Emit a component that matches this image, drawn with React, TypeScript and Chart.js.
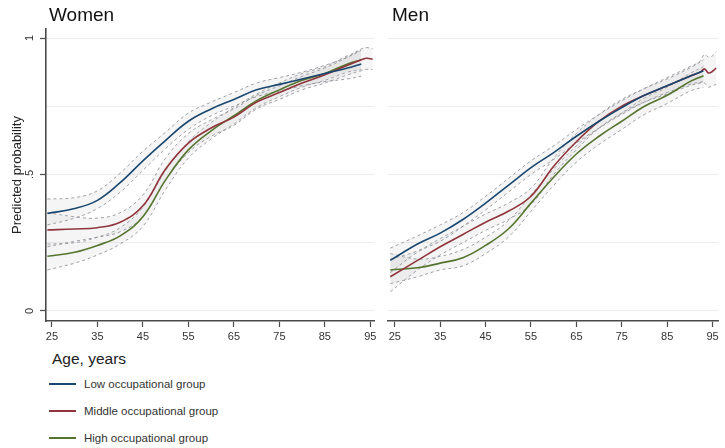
import React, { useEffect, useRef } from 'react';
import { Chart, registerables } from 'chart.js';

Chart.register(...registerables);

// ---------- data ----------
const X_TICKS = [25, 35, 45, 55, 65, 75, 85, 95];
const Y_TICKS = [0, 0.25, 0.5, 0.75, 1];
const Y_TICK_LABELS: Record<string, string> = { '0': '0', '0.5': '.5', '1': '1' };

const GROUPS = ['Low occupational group', 'Middle occupational group', 'High occupational group'];
const COLORS = ['#1a476f', '#90353b', '#55752f'];

// Women
const W_AGES = [24, 30, 35, 40, 45, 50, 55, 60, 65, 70, 75, 80, 85, 90, 93];
const W_AGES_MID = [24, 30, 35, 40, 45, 50, 55, 60, 65, 70, 75, 80, 85, 90, 93, 94.2, 95.5];

const W_LOW = [0.357, 0.375, 0.405, 0.47, 0.55, 0.625, 0.695, 0.74, 0.775, 0.81, 0.83, 0.85, 0.87, 0.89, 0.905];
const W_LOW_HI = [0.41, 0.415, 0.44, 0.505, 0.585, 0.655, 0.725, 0.765, 0.80, 0.835, 0.855, 0.875, 0.90, 0.93, 0.955];
const W_LOW_LO = [0.315, 0.34, 0.375, 0.435, 0.515, 0.595, 0.665, 0.715, 0.75, 0.785, 0.805, 0.825, 0.84, 0.85, 0.86];

const W_MID = [0.297, 0.30, 0.305, 0.325, 0.385, 0.52, 0.615, 0.67, 0.71, 0.765, 0.80, 0.835, 0.865, 0.90, 0.92, 0.926, 0.922];
const W_MID_HI = [0.36, 0.345, 0.34, 0.36, 0.425, 0.56, 0.65, 0.70, 0.74, 0.79, 0.825, 0.86, 0.89, 0.93, 0.96, 0.965, 0.96];
const W_MID_LO = [0.235, 0.255, 0.27, 0.29, 0.345, 0.48, 0.58, 0.64, 0.68, 0.74, 0.775, 0.81, 0.835, 0.865, 0.88, 0.885, 0.885];

const W_HIGH = [0.20, 0.215, 0.24, 0.275, 0.345, 0.48, 0.59, 0.66, 0.715, 0.77, 0.81, 0.845, 0.87, 0.905, 0.92];
const W_HIGH_HI = [0.245, 0.25, 0.27, 0.305, 0.38, 0.515, 0.62, 0.69, 0.745, 0.795, 0.835, 0.87, 0.895, 0.935, 0.955];
const W_HIGH_LO = [0.15, 0.175, 0.205, 0.245, 0.31, 0.445, 0.56, 0.63, 0.685, 0.745, 0.785, 0.82, 0.845, 0.875, 0.885];

// Men
const M_AGES = [24, 30, 35, 40, 45, 50, 55, 60, 65, 70, 75, 80, 85, 90, 93];
const M_AGES_MID = [24, 30, 35, 40, 45, 50, 55, 60, 65, 70, 75, 80, 85, 90, 92.3, 93.2, 94.1, 95.0, 95.8];

const M_LOW = [0.185, 0.245, 0.285, 0.335, 0.395, 0.46, 0.525, 0.58, 0.64, 0.695, 0.745, 0.79, 0.825, 0.86, 0.88];
const M_LOW_HI = [0.23, 0.275, 0.315, 0.36, 0.42, 0.485, 0.55, 0.605, 0.665, 0.72, 0.77, 0.815, 0.85, 0.89, 0.92];
const M_LOW_LO = [0.14, 0.215, 0.255, 0.31, 0.37, 0.435, 0.50, 0.555, 0.615, 0.67, 0.72, 0.765, 0.80, 0.83, 0.84];

const M_MID = [0.125, 0.185, 0.235, 0.28, 0.325, 0.365, 0.42, 0.53, 0.62, 0.695, 0.75, 0.79, 0.825, 0.86, 0.875, 0.887, 0.872, 0.878, 0.89];
const M_MID_HI = [0.19, 0.22, 0.265, 0.31, 0.355, 0.395, 0.45, 0.56, 0.65, 0.72, 0.775, 0.815, 0.855, 0.895, 0.915, 0.94, 0.93, 0.935, 0.95];
const M_MID_LO = [0.07, 0.15, 0.205, 0.25, 0.295, 0.335, 0.39, 0.50, 0.59, 0.67, 0.725, 0.765, 0.795, 0.825, 0.835, 0.835, 0.82, 0.825, 0.83];

const M_HIGH = [0.15, 0.158, 0.175, 0.195, 0.24, 0.30, 0.395, 0.49, 0.575, 0.64, 0.695, 0.75, 0.79, 0.84, 0.862];
const M_HIGH_HI = [0.21, 0.19, 0.20, 0.225, 0.27, 0.33, 0.425, 0.52, 0.605, 0.67, 0.725, 0.78, 0.82, 0.87, 0.895];
const M_HIGH_LO = [0.10, 0.125, 0.15, 0.165, 0.21, 0.27, 0.365, 0.46, 0.545, 0.61, 0.665, 0.72, 0.76, 0.805, 0.82];

// ---------- styles ----------
const FONT = '"Liberation Sans", Arial, Helvetica, sans-serif';
const AXIS_COLOR = '#4a4a4a';
const GRID_COLOR = '#ececec';
const BAND_LINE = 'rgba(130,130,140,0.75)';
const BAND_FILL = 'rgba(190,190,195,0.16)';

type Series = { ages: number[]; est: number[]; lo: number[]; hi: number[]; color: string };

const WOMEN: Series[] = [
  { ages: W_AGES, est: W_LOW, lo: W_LOW_LO, hi: W_LOW_HI, color: COLORS[0] },
  { ages: W_AGES_MID, est: W_MID, lo: W_MID_LO, hi: W_MID_HI, color: COLORS[1] },
  { ages: W_AGES, est: W_HIGH, lo: W_HIGH_LO, hi: W_HIGH_HI, color: COLORS[2] },
];
const MEN: Series[] = [
  { ages: M_AGES, est: M_LOW, lo: M_LOW_LO, hi: M_LOW_HI, color: COLORS[0] },
  { ages: M_AGES_MID, est: M_MID, lo: M_MID_LO, hi: M_MID_HI, color: COLORS[1] },
  { ages: M_AGES, est: M_HIGH, lo: M_HIGH_LO, hi: M_HIGH_HI, color: COLORS[2] },
];

function buildDatasets(series: Series[]) {
  const ds: any[] = [];
  series.forEach((s) => {
    const pts = (arr: number[]) => arr.map((v, i) => ({ x: s.ages[i], y: v }));
    const loIdx = ds.length;
    ds.push({
      data: pts(s.lo), borderColor: BAND_LINE, borderDash: [3, 3], borderWidth: 1,
      pointRadius: 0, fill: false, order: 2, tension: 0.4,
    });
    ds.push({
      data: pts(s.hi), borderColor: BAND_LINE, borderDash: [3, 3], borderWidth: 1,
      pointRadius: 0, fill: { target: loIdx }, backgroundColor: BAND_FILL, order: 2, tension: 0.4,
    });
  });
  series.forEach((s) => {
    ds.push({
      data: s.est.map((v, i) => ({ x: s.ages[i], y: v })),
      borderColor: s.color, borderWidth: 1.6, pointRadius: 0, fill: false, order: 1, tension: 0.4,
    });
  });
  return ds;
}

function makeOptions(showY: boolean, xmin: number, xmax: number, padding: any) {
  return {
    responsive: false,
    animation: false as const,
    layout: { padding },
    plugins: { legend: { display: false }, tooltip: { enabled: false }, title: { display: false } },
    scales: {
      x: {
        type: 'linear' as const,
        min: xmin,
        max: xmax,
        afterBuildTicks: (axis: any) => { axis.ticks = X_TICKS.map((v) => ({ value: v })); },
        afterFit: (s: any) => { s.height = 24; },
        grid: { drawOnChartArea: false, drawTicks: true, tickLength: 6, tickColor: AXIS_COLOR, tickWidth: 1.2 },
        border: { display: true, color: AXIS_COLOR, width: 1.6 },
        ticks: {
          padding: 3, color: '#333', font: { family: FONT, size: 11 }, maxRotation: 0, minRotation: 0,
          callback: (v: any) => String(v),
        },
      },
      y: {
        type: 'linear' as const,
        min: -0.037,
        max: 1.033,
        afterBuildTicks: (axis: any) => { axis.ticks = Y_TICKS.map((v) => ({ value: v })); },
        afterFit: (s: any) => { s.width = showY ? 46 : 0; },
        grid: {
          color: GRID_COLOR, lineWidth: 1, drawTicks: showY, tickLength: 6, tickWidth: 1.2,
          tickColor: (ctx: any) => (ctx.tick && Y_TICK_LABELS[String(ctx.tick.value)] !== undefined ? AXIS_COLOR : 'rgba(0,0,0,0)'),
        },
        border: { display: showY, color: AXIS_COLOR, width: 1.6 },
        title: {
          display: showY, text: 'Predicted probability', color: '#222',
          font: { family: FONT, size: 13 }, padding: { top: 9.5, bottom: 0 },
        },
        ticks: {
          display: showY, color: '#333', font: { family: FONT, size: 11 },
          minRotation: 90, maxRotation: 90, crossAlign: 'center' as const, padding: 5,
          callback: (v: any) => Y_TICK_LABELS[String(v)] ?? '',
        },
      },
    },
  };
}

function Panel(props: { series: Series[]; showY: boolean; xmin: number; xmax: number; padding: any; width: number; height: number; left: number }) {
  const ref = useRef<HTMLCanvasElement | null>(null);
  useEffect(() => {
    if (!ref.current) return;
    const chart = new Chart(ref.current, {
      type: 'line',
      data: { datasets: buildDatasets(props.series) },
      options: makeOptions(props.showY, props.xmin, props.xmax, props.padding) as any,
    });
    return () => chart.destroy();
  }, []);
  return (
    <canvas
      ref={ref}
      width={props.width}
      height={props.height}
      style={{ position: 'absolute', left: props.left, top: 0, width: props.width, height: props.height }}
    />
  );
}

export default function App() {
  const text = (s: React.CSSProperties) => ({ position: 'absolute' as const, whiteSpace: 'nowrap' as const, fontFamily: FONT, ...s });
  return (
    <div style={{ position: 'fixed', left: 0, top: 0, width: 725, height: 448, background: '#fff', overflow: 'hidden' }}>
      <Panel series={WOMEN} showY={true} xmin={23.7} xmax={95.8} padding={{ left: 0, right: 6, top: 29, bottom: 0 }} width={380} height={345} left={0} />
      <Panel series={MEN} showY={false} xmin={23.5} xmax={96.2} padding={{ left: 8, right: 7, top: 29, bottom: 0 }} width={345} height={345} left={380} />
      <div style={text({ left: 49, top: 4, fontSize: 19, lineHeight: '22px', color: '#111' })}>Women</div>
      <div style={text({ left: 392, top: 4, fontSize: 19, lineHeight: '22px', color: '#111' })}>Men</div>
      <div style={text({ left: 52, top: 350, fontSize: 15.5, lineHeight: '18px', color: '#222' })}>Age, years</div>
      {GROUPS.map((g, i) => (
        <React.Fragment key={g}>
          <div style={{ position: 'absolute', left: 49, top: 383 + i * 27, width: 27, height: 2, background: COLORS[i] }} />
          <div style={text({ left: 84, top: 377 + i * 27, fontSize: 11.5, lineHeight: '14px', color: '#333' })}>{g}</div>
        </React.Fragment>
      ))}
    </div>
  );
}
